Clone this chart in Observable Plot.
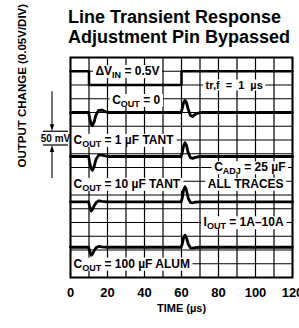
<!DOCTYPE html>
<html><head><meta charset="utf-8">
<script src="https://cdn.jsdelivr.net/npm/d3@7"></script>
<script src="https://cdn.jsdelivr.net/npm/@observablehq/plot@0.6"></script>
<style>
html,body{margin:0;padding:0;background:#fff;}
body{width:299px;height:328px;overflow:hidden;position:relative;font-family:"Liberation Sans",Arial,Helvetica,sans-serif;}
#title{position:absolute;left:68px;top:7px;font-weight:bold;font-size:18px;line-height:20px;color:#000;white-space:nowrap;}
#chart{position:absolute;left:0;top:50px;}
#chart svg text{white-space:pre;}
#chart svg g[aria-label="x-axis tick label"]{font-weight:bold;font-size:13px;}
#chart svg g[aria-label="x-axis label"]{font-weight:bold;font-size:11px;}
</style></head><body>
<div id="title">Line Transient Response<br>Adjustment Pin Bypassed</div>
<div id="chart"></div>
<script>
// ---- data (time in µs, levels in mV on a 50 mV/div screen) ----
const xTicks = [0, 20, 40, 60, 80, 100, 120];
const gridTimes = [0, 10, 20, 30, 40, 50, 60, 70, 80, 90, 100, 110, 120];
const gridLevels = [0, 50, 100, 150, 200, 250, 300, 350, 400, 450, 500, 550, 600, 650, 700, 750, 800];

// input step trace (ΔVIN = 0.5 V)
const vinTime  = [0, 10, 10, 60, 60, 120];
const vinLevel = [750, 750, 700, 700, 750, 750];

// output traces: baseline on screen + deviation (mV)
const traceNames    = ["Cout0", "Cout1uF", "Cout10uF", "Cout100uF"];
const traceBaseline = [600, 440, 275, 110];
const traceTime     = [0, 9.8, 10.4, 11.2, 11.9, 12.8, 13.8, 15.2, 17, 20, 59.8, 60.4, 61.1, 61.9, 62.7, 63.6, 64.8, 66, 67.5, 70, 120];
const devCout0      = [0, 0, -22, -42, -47, -33, -8, 8, 9, 0, 0, 14, 36, 44, 36, 12, -10, -15, -6, 0, 0];
const devCout1uF    = [0, 0, -24, -45, -50, -36, -10, 5, 5, 0, 0, 14, 38, 50, 40, 14, -4, -7, -3, 0, 0];
const devCout10uF   = [0, 0, -18, -33, -28, -14, -3, 4, 2, 0, 0, 14, 42, 55, 42, 14, -2, -4, -1, 0, 0];
const devCout100uF  = [0, 0, -16, -29, -24, -12, -2, 3, 1, 0, 0, 12, 34, 44, 34, 12, -2, -3, -1, 0, 0];
const traceDev = [devCout0, devCout1uF, devCout10uF, devCout100uF];

// in-screen labels ("_XX" = subscript)
const labelText   = ["ΔV_IN = 0.5V", "C_OUT = 0", "C_OUT = 1 µF TANT", "C_OUT = 10 µF TANT", "C_OUT = 100 µF ALUM", "C_ADJ = 25 µF", "ALL TRACES", "I_OUT = 1A–10A"];
const labelTime   = [13.5, 22.5, 1.6, 1.6, 1.6, 116.2, 115.2, 115.2];
const labelLevel  = [750, 645, 500, 340, 50, 400, 340, 200];
const labelAnchor = ["start", "start", "start", "start", "start", "end", "end", "end"];
const trfText = "tr,f = 1 µs";
const trfTime = 73;
const trfLevel = 700;

const yLabel = "OUTPUT CHANGE (0.05V/DIV)";
const xLabel = "TIME (µs)";
const scaleBarText = "50 mV";
const scaleBarLow = 480;
const scaleBarHigh = 530;

// ---- build tables ----
const vinRows = vinTime.map((t, i) => ({t, v: vinLevel[i]}));
const traceRows = traceNames.flatMap((name, i) =>
  traceTime.map((t, j) => ({series: name, t, v: traceBaseline[i] + traceDev[i][j]})));
const labelRows = labelText.map((label, i) => ({label, t: labelTime[i], v: labelLevel[i], anchor: labelAnchor[i]}));

const plot = Plot.plot({
  width: 299, height: 278,
  marginLeft: 70, marginRight: 7, marginTop: 7, marginBottom: 51,
  style: {fontFamily: '"Liberation Sans", Arial, sans-serif', color: "#000", background: "#fff", overflow: "visible"},
  x: {domain: [0, 120]},
  y: {domain: [0, 800], axis: null},
  marks: [
    Plot.ruleX(gridTimes, {stroke: "#000", strokeWidth: 1.2}),
    Plot.ruleY(gridLevels, {stroke: "#000", strokeWidth: 1.2}),
    Plot.text(labelRows.filter(d => d.anchor === "start"), {x: "t", y: "v", text: "label", textAnchor: "start", fontSize: 12, fontWeight: "bold", fill: "#000"}),
    Plot.text(labelRows.filter(d => d.anchor === "end"), {x: "t", y: "v", text: "label", textAnchor: "end", fontSize: 12, fontWeight: "bold", fill: "#000"}),
    Plot.text([trfText], {x: () => trfTime, y: () => trfLevel, text: d => d, textAnchor: "start", fontSize: 11, fontWeight: "bold", fill: "#000"}),
    Plot.line(vinRows, {x: "t", y: "v", stroke: "#000", strokeWidth: 2.5}),
    Plot.line(traceRows, {x: "t", y: "v", z: "series", stroke: "#000", strokeWidth: 2.8, strokeLinejoin: "round"}),
    Plot.frame({stroke: "#000", strokeWidth: 2}),
    Plot.axisX(xTicks, {tickSize: 0, tickPadding: 10, label: xLabel, labelAnchor: "center", labelArrow: "none", labelOffset: 34}),
    Plot.text([yLabel], {frameAnchor: "left", rotate: -90, dx: -48, text: d => d, fontSize: 11.5, fontWeight: "bold", fill: "#000"})
  ]
});
document.getElementById("chart").append(plot);

const SVGNS = "http://www.w3.org/2000/svg";
const labelSet = new Set([...labelText, trfText]);
const labelEls = Array.from(plot.querySelectorAll("text")).filter(el => labelSet.has(el.textContent));

// subscripts
function subscriptify(el) {
  const s = el.textContent;
  if (!s.includes("_")) return;
  const parts = s.split(/_([A-Z]+)/);
  el.textContent = "";
  parts.forEach((p, i) => {
    const ts = document.createElementNS(SVGNS, "tspan");
    ts.textContent = p;
    if (i % 2 === 1) { ts.setAttribute("font-size", "9"); ts.setAttribute("dy", "3"); }
    else if (i > 0) { ts.setAttribute("dy", "-3"); }
    el.appendChild(ts);
  });
}
// white boxes behind labels (cut the grid), sized from the unsubscripted text
labelEls.forEach(el => {
  if (el.textContent === trfText) el.setAttribute("word-spacing", "3");
  const b = el.getBBox();
  subscriptify(el);
  const w = el.getBBox().width;
  const r = document.createElementNS(SVGNS, "rect");
  r.setAttribute("x", el.getBBox().x - 2.5);
  r.setAttribute("y", b.y + 1);
  r.setAttribute("width", w + 5);
  r.setAttribute("height", b.height - 1);
  if (el.getAttribute("transform")) r.setAttribute("transform", el.getAttribute("transform"));
  r.setAttribute("fill", "#fff");
  r.setAttribute("stroke", "none");
  el.parentNode.insertBefore(r, el);
});

// 50 mV scale marker (uses the plot's y scale)
const ys = plot.scale("y");
const yTop = ys.apply(scaleBarHigh), yBot = ys.apply(scaleBarLow);
const g = d3.select(plot).append("g").attr("stroke", "#000").attr("fill", "#000");
g.append("line").attr("x1", 43).attr("x2", 68).attr("y1", yTop).attr("y2", yTop).attr("stroke-width", 1.2);
g.append("line").attr("x1", 43).attr("x2", 68).attr("y1", yBot).attr("y2", yBot).attr("stroke-width", 1.2);
g.append("line").attr("x1", 52).attr("x2", 52).attr("y1", yTop - 40).attr("y2", yTop - 6).attr("stroke-width", 1.1);
g.append("path").attr("d", `M49.8,${yTop - 7}L54.2,${yTop - 7}L52,${yTop}Z`).attr("stroke", "none");
g.append("line").attr("x1", 52).attr("x2", 52).attr("y1", yBot + 33).attr("y2", yBot + 6).attr("stroke-width", 1.1);
g.append("path").attr("d", `M49.8,${yBot + 7}L54.2,${yBot + 7}L52,${yBot}Z`).attr("stroke", "none");
g.append("text").attr("x", 55.5).attr("y", (yTop + yBot) / 2).attr("dy", "0.35em")
  .attr("text-anchor", "middle").attr("font-size", 10).attr("font-weight", "bold").attr("stroke", "none")
  .text(scaleBarText);
</script></body></html>
